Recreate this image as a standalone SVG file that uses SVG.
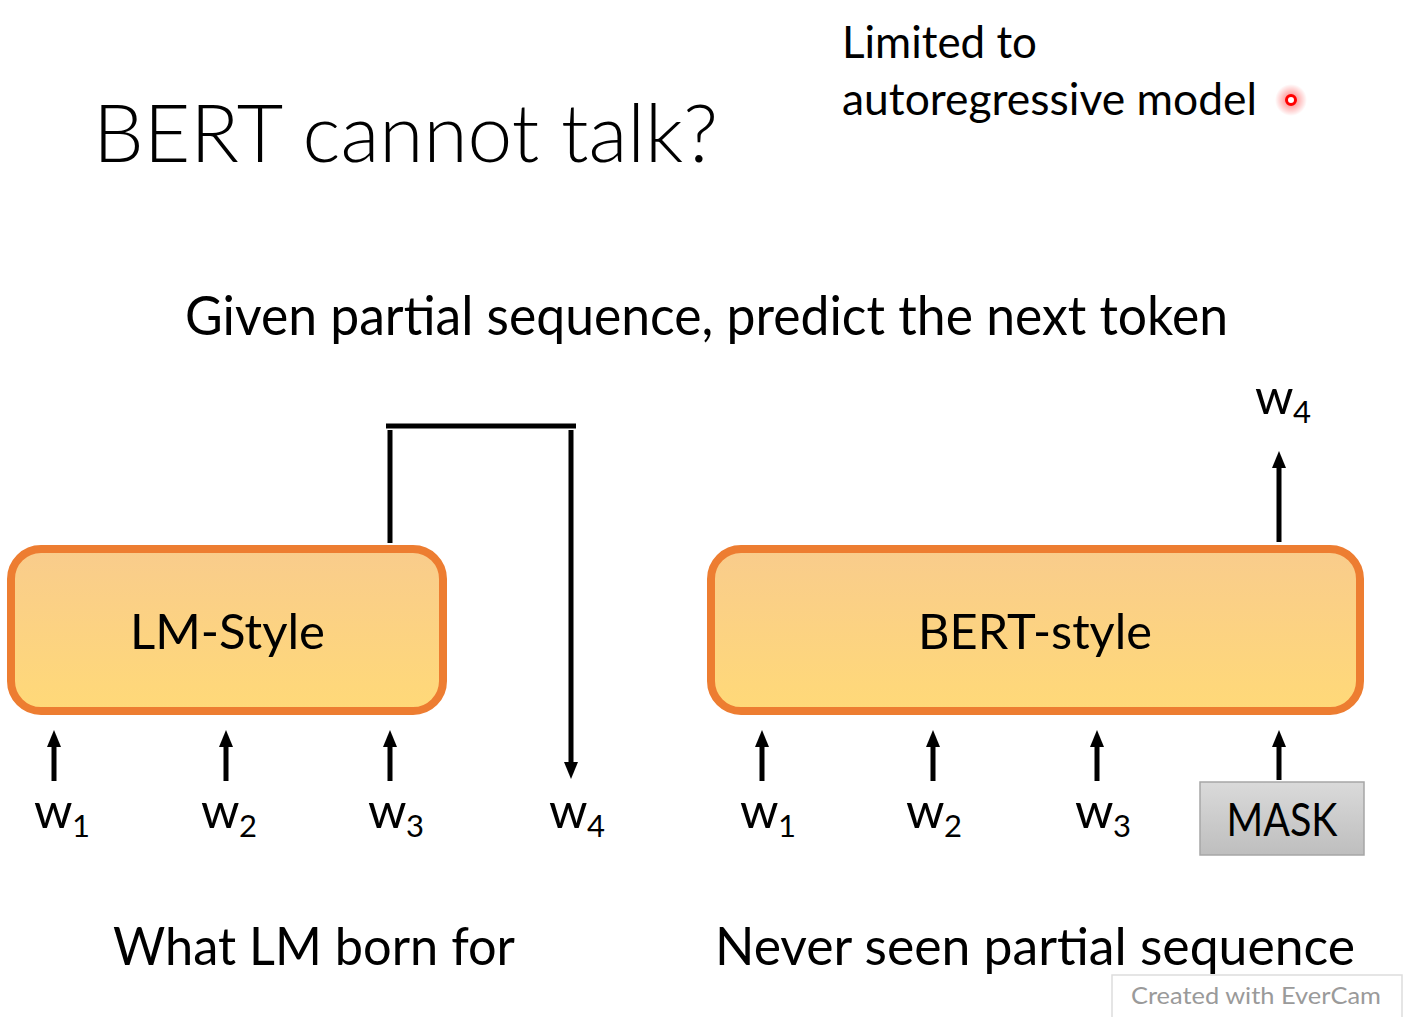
<svg xmlns="http://www.w3.org/2000/svg" width="1408" height="1017" viewBox="0 0 1408 1017">
<style>
text{font-family:Lato,"Open Sans","Liberation Sans",sans-serif;fill:#000}
.ln{stroke:#000;stroke-width:5;fill:none}
.box{stroke:#ED7D31;stroke-width:8;fill:url(#og)}
.w{font-size:49px}
.sub{font-size:31px}
</style>
<defs>
<linearGradient id="og" x1="0" y1="0" x2="0" y2="1">
<stop offset="0" stop-color="#F9CC8C"/>
<stop offset="1" stop-color="#FFD978"/>
</linearGradient>
<linearGradient id="gg" x1="0" y1="0" x2="0" y2="1">
<stop offset="0" stop-color="#DADADA"/>
<stop offset="1" stop-color="#BEBEBE"/>
</linearGradient>
<radialGradient id="glow">
<stop offset="0" stop-color="#FF0000" stop-opacity="0.55"/>
<stop offset="1" stop-color="#FF0000" stop-opacity="0"/>
</radialGradient>
<marker id="ah" viewBox="0 0 17 14" refX="1" refY="7" markerWidth="17" markerHeight="14" markerUnits="userSpaceOnUse" orient="auto">
<path d="M0,0 L17,7 L0,14 Z" fill="#000"/>
</marker>
</defs>
<rect width="1408" height="1017" fill="#fff"/>

<g id="title">
<text x="93" y="162" font-size="80" font-weight="300" textLength="625" lengthAdjust="spacingAndGlyphs">BERT cannot talk?</text>
</g>
<g id="note">
<text x="842" y="58" font-size="44" textLength="195" lengthAdjust="spacingAndGlyphs">Limited to</text>
<text x="842" y="115" font-size="44" textLength="415" lengthAdjust="spacingAndGlyphs">autoregressive model</text>
<circle cx="1291" cy="100" r="16" fill="url(#glow)"/>
<circle cx="1291" cy="100" r="4.5" fill="#fff" stroke="#F00" stroke-width="3"/>
</g>
<g id="subtitle">
<text x="185" y="335" font-size="54" textLength="1043" lengthAdjust="spacingAndGlyphs">Given partial sequence, predict the next token</text>
</g>

<g id="lm-style">
<rect class="box" x="11" y="549" width="432" height="162" rx="30"/>
<text x="130" y="649" font-size="49" textLength="195" lengthAdjust="spacingAndGlyphs">LM-Style</text>
</g>
<g id="bert-style">
<rect class="box" x="711" y="549" width="649" height="162" rx="30"/>
<text x="918" y="649" font-size="49" textLength="234" lengthAdjust="spacingAndGlyphs">BERT-style</text>
</g>
<g id="mask">
<rect x="1200" y="782" width="164" height="73" fill="url(#gg)" stroke="#A6A6A6" stroke-width="1.5"/>
<text x="1282" y="836" font-size="46" text-anchor="middle" textLength="111" lengthAdjust="spacingAndGlyphs">MASK</text>
</g>

<g id="tokens">
<text class="w" x="34" y="828">w</text><text class="sub" x="72" y="837">1</text>
<text class="w" x="201" y="828">w</text><text class="sub" x="239" y="837">2</text>
<text class="w" x="368" y="828">w</text><text class="sub" x="406" y="837">3</text>
<text class="w" x="549" y="828">w</text><text class="sub" x="587" y="837">4</text>
<text class="w" x="740" y="828">w</text><text class="sub" x="778" y="837">1</text>
<text class="w" x="906" y="828">w</text><text class="sub" x="944" y="837">2</text>
<text class="w" x="1075" y="828">w</text><text class="sub" x="1113" y="837">3</text>
<text class="w" x="1255" y="414">w</text><text class="sub" x="1293" y="423">4</text>
</g>

<g id="connectors">
<line class="ln" x1="54" y1="781" x2="54" y2="746" marker-end="url(#ah)"/>
<line class="ln" x1="226" y1="781" x2="226" y2="746" marker-end="url(#ah)"/>
<line class="ln" x1="390" y1="781" x2="390" y2="746" marker-end="url(#ah)"/>
<line class="ln" x1="762" y1="781" x2="762" y2="746" marker-end="url(#ah)"/>
<line class="ln" x1="933" y1="781" x2="933" y2="746" marker-end="url(#ah)"/>
<line class="ln" x1="1097" y1="781" x2="1097" y2="746" marker-end="url(#ah)"/>
<line class="ln" x1="1279" y1="780" x2="1279" y2="746" marker-end="url(#ah)"/>
<line class="ln" x1="1279" y1="542" x2="1279" y2="467" marker-end="url(#ah)"/>
<line class="ln" x1="386" y1="426" x2="576" y2="426"/>
<line class="ln" x1="390" y1="430" x2="390" y2="543"/>
<line class="ln" x1="571" y1="430" x2="571" y2="763" marker-end="url(#ah)"/>
</g>

<g id="captions">
<text x="113" y="965" font-size="52" textLength="402" lengthAdjust="spacingAndGlyphs">What LM born for</text>
<text x="715" y="965" font-size="52" textLength="640" lengthAdjust="spacingAndGlyphs">Never seen partial sequence</text>
</g>

<g id="watermark">
<rect x="1112" y="975" width="290" height="50" fill="#fff" stroke="#DDDDDD" stroke-width="1.5"/>
<text x="1131" y="1004" font-size="23" style="fill:#9a9a9a" textLength="250" lengthAdjust="spacingAndGlyphs">Created  with  EverCam</text>
</g>
</svg>
